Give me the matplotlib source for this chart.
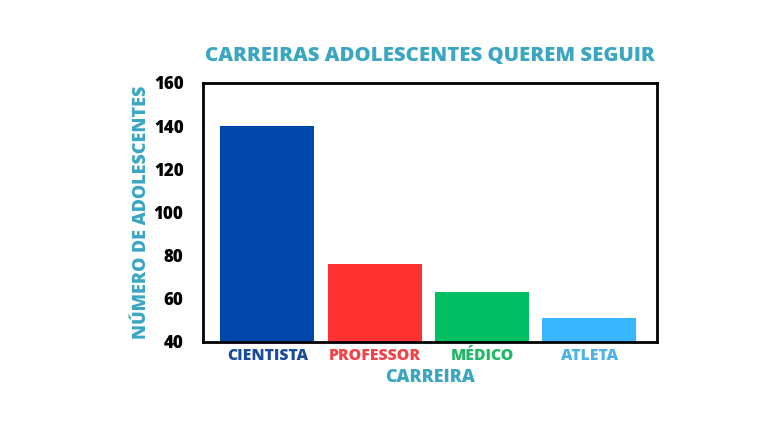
import matplotlib
matplotlib.use("Agg")
import matplotlib.pyplot as plt

categories = ["CIENTISTA", "PROFESSOR", "MÉDICO", "ATLETA"]
values = [140, 76, 63, 51]
bar_colors = ["#0047ab", "#ff3131", "#00bf63", "#38b6ff"]
label_colors = ["#1b4c9c", "#f0434a", "#1fb864", "#4db3e6"]
yticks = [40, 60, 80, 100, 120, 140, 160]
teal = "#3aa6c2"

plt.rcParams['font.family'] = ['Open Sans', 'DejaVu Sans']
W = 800

fig = plt.figure(figsize=(7.68, 4.32), dpi=100)
ax = fig.add_axes([203/768, 1-342/432, 454/768, 259/432])

x = list(range(len(categories)))
ax.bar(x, values, width=0.875, color=bar_colors, bottom=0)
ax.set_ylim(40, 160)
ax.set_xlim(-0.6, 3.63)
ax.set_yticks(yticks)
ax.set_yticklabels([str(v) for v in yticks], fontsize=12.2, fontweight=W, color='black')
ax.set_xticks(x)
ax.set_xticklabels(categories, fontsize=11.3, fontweight=W)
for lbl, c in zip(ax.get_xticklabels(), label_colors):
    lbl.set_color(c)
ax.tick_params(axis='both', length=0)
ax.tick_params(axis='y', pad=14)
ax.tick_params(axis='x', pad=4.5)
for s in ax.spines.values():
    s.set_linewidth(2)
    s.set_color('black')

ax.set_title("CARREIRAS ADOLESCENTES QUEREM SEGUIR", fontsize=14.7, fontweight=W, color=teal, pad=16)
ax.set_xlabel("CARREIRA", fontsize=12.9, fontweight=W, color=teal, labelpad=3.5)
ax.set_ylabel("NÚMERO DE ADOLESCENTES", fontsize=13.0, fontweight=W, color=teal, labelpad=3)

fig.savefig("out.png", dpi=100, facecolor='white')
